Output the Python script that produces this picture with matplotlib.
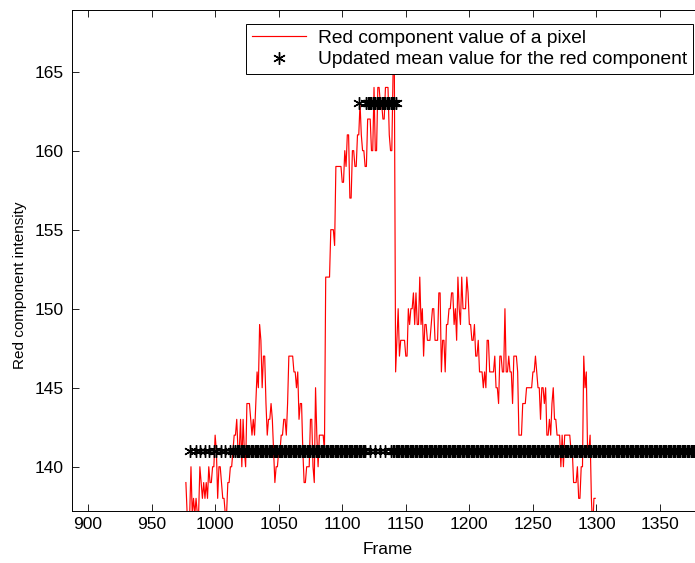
import numpy as np
import matplotlib
matplotlib.use("Agg")
import matplotlib.pyplot as plt

plt.rcParams['font.family'] = ['Liberation Sans', 'DejaVu Sans']

# red component of the pixel, one value per frame starting at frame 977
first_frame = 977
red_values = [
    139, 137, 137,                                          # 977-979
    137, 140, 137, 138, 137, 138, 137, 137, 140, 139,       # 980
    138, 139, 138, 139, 138, 140, 139, 139, 140, 140,       # 990
    142, 141, 138, 140, 140, 139, 138, 138, 137, 137,       # 1000
    139, 139, 140, 140, 141, 142, 142, 143, 141, 141,       # 1010
    143, 140, 143, 141, 140, 144, 144, 144, 143, 142,       # 1020
    143, 142, 144, 146, 145, 149, 148, 145, 147, 147,       # 1030
    144, 142, 143, 143, 144, 143, 141, 139, 140, 140,       # 1040
    141, 141, 142, 142, 143, 143, 142, 144, 147, 147,       # 1050
    147, 147, 146, 146, 145, 146, 143, 144, 144, 141,       # 1060
    139, 139, 140, 140, 140, 143, 143, 140, 139, 145,       # 1070
    142, 140, 142, 142, 142, 142, 141, 152, 152, 152,       # 1080
    152, 155, 155, 155, 154, 159, 159, 159, 159, 159,       # 1090
    158, 158, 160, 159, 161, 161, 157, 157, 160, 160,       # 1100
    159, 159, 161, 161, 163, 161, 160, 160, 159, 159,       # 1110
    162, 162, 162, 160, 160, 164, 160, 160, 164, 164,       # 1120
    163, 163, 162, 162, 164, 164, 164, 161, 160, 160,       # 1130
    165, 165, 146, 148, 150, 147, 148, 148, 148, 148,       # 1140
    147, 147, 150, 149, 150, 150, 151, 149, 151, 149,       # 1150
    149, 152, 149, 150, 147, 149, 149, 148, 148, 148,       # 1160
    149, 150, 150, 148, 148, 148, 151, 151, 146, 148,       # 1170
    148, 146, 149, 149, 150, 150, 151, 151, 149, 150,       # 1180
    148, 152, 150, 149, 152, 150, 150, 150, 152, 151,       # 1190
    149, 149, 148, 148, 149, 147, 147, 148, 146, 146,       # 1200
    146, 145, 146, 145, 148, 148, 146, 146, 146, 146,       # 1210
    147, 145, 145, 144, 147, 147, 146, 146, 150, 146,       # 1220
    146, 147, 146, 146, 144, 147, 147, 147, 146, 142,       # 1230
    142, 142, 144, 144, 144, 145, 145, 145, 145, 145,       # 1240
    146, 146, 147, 146, 145, 145, 143, 145, 145, 144,       # 1250
    145, 142, 142, 143, 142, 144, 145, 143, 143, 142,       # 1260
    142, 142, 140, 142, 140, 142, 142, 142, 142, 142,       # 1270
    141, 141, 139, 139, 139, 140, 138, 138, 140, 140,       # 1280
    147, 145, 146, 141, 141, 142, 138, 136, 138, 138,       # 1290
]

# updated mean values (asterisks)
low_mean = 141
high_mean = 163
low_single_frames = [980, 985, 988, 992, 995, 999, 1001, 1005, 1008, 1012, 1014,
                     1122, 1126, 1130, 1134, 1138]
low_ranges = [(1016, 1118), (1140, 1390)]
high_single_frames = [1113]
high_ranges = [(1119, 1142)]

frames = np.arange(first_frame, first_frame + len(red_values))

low_frames = list(low_single_frames)
for a, b in low_ranges:
    low_frames += list(range(a, b + 1))
high_frames = list(high_single_frames)
for a, b in high_ranges:
    high_frames += list(range(a, b + 1))
low_frames = np.sort(low_frames)
high_frames = np.sort(high_frames)
star_frames = np.concatenate([low_frames, high_frames])
star_values = np.concatenate([np.full(len(low_frames), low_mean),
                              np.full(len(high_frames), high_mean)])

fig = plt.figure(figsize=(6.95, 5.63), dpi=100)
# axes runs a little past the right edge of the picture (cropped figure)
ax = fig.add_axes([72 / 695, 1 - 511 / 563, 632 / 695, 501 / 563])

ax.plot(frames, red_values, color='red', lw=0.85,
        label='Red component value of a pixel')
ax.plot(star_frames, star_values, ls='none', marker=(6, 2, 0), ms=9,
        mec='black', mew=1.0, color='black',
        label='Updated mean value for the red component')

ax.set_xlim(887.4, 1384.6)
ax.set_ylim(137.2, 168.9)
ax.set_xticks(np.arange(900, 1351, 50))
ax.set_yticks(np.arange(140, 166, 5))
ax.tick_params(direction='in', top=True, right=True, labelsize=12.5,
               length=5, width=0.6)
ax.tick_params(axis='y', pad=6)
ax.tick_params(axis='x', pad=4)
for s in ax.spines.values():
    s.set_linewidth(0.7)

ax.set_xlabel('Frame', fontsize=12.5)
ax.xaxis.set_label_coords(0.5, -0.061)
ax.set_ylabel('Red component intensity', fontsize=11)
ax.yaxis.set_label_coords(-0.071, 0.451)

leg = ax.legend(loc='upper right', bbox_to_anchor=(693 / 695, 1 - 24 / 563),
                bbox_transform=fig.transFigure, borderaxespad=0, fontsize=13.8,
                fancybox=False, framealpha=1, edgecolor='black',
                handlelength=2.8, handletextpad=0.65, borderpad=0.3,
                labelspacing=0.2)
leg.get_frame().set_linewidth(0.7)

fig.savefig('out.png', dpi=100)
